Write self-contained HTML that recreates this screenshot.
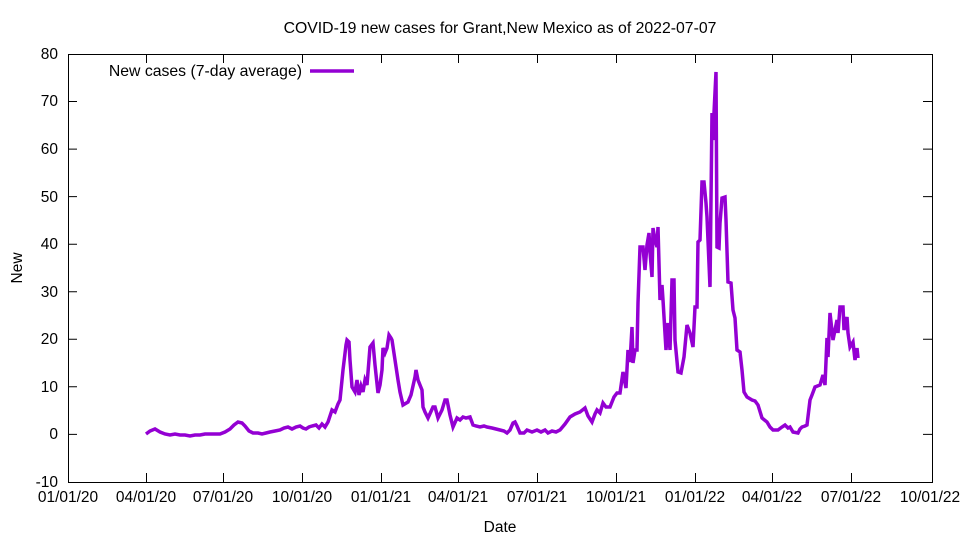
<!DOCTYPE html>
<html><head><style>body{margin:0;background:#fff}svg{display:block;font-family:"Liberation Sans",sans-serif}</style></head><body>
<svg width="960" height="540" viewBox="0 0 960 540">
<rect width="960" height="540" fill="#fff"/>
<g stroke="#000" stroke-width="1" fill="none">
<rect x="68.5" y="54.5" width="864" height="428"/>
<path d="M68 434.4h9M932 434.4h-9M68 386.8h9M932 386.8h-9M68 339.3h9M932 339.3h-9M68 291.7h9M932 291.7h-9M68 244.2h9M932 244.2h-9M68 196.6h9M932 196.6h-9M68 149.1h9M932 149.1h-9M68 101.5h9M932 101.5h-9"/>
<path d="M146.5 482v-9M146.5 54v9M223.5 482v-9M223.5 54v9M302.5 482v-9M302.5 54v9M381.5 482v-9M381.5 54v9M458.5 482v-9M458.5 54v9M537.5 482v-9M537.5 54v9M616.5 482v-9M616.5 54v9M695.5 482v-9M695.5 54v9M772.5 482v-9M772.5 54v9M851.5 482v-9M851.5 54v9"/>
</g>
<g font-size="15.5" text-anchor="end" fill="#000">
<text x="58" y="487">-10</text><text x="58" y="439">0</text><text x="58" y="392">10</text><text x="58" y="344">20</text><text x="58" y="297">30</text><text x="58" y="249">40</text><text x="58" y="202">50</text><text x="58" y="154">60</text><text x="58" y="106">70</text><text x="58" y="59">80</text>
</g>
<g font-size="15.5" text-anchor="middle" fill="#000">
<text x="68" y="502">01/01/20</text><text x="146" y="502">04/01/20</text><text x="223" y="502">07/01/20</text><text x="302" y="502">10/01/20</text><text x="381" y="502">01/01/21</text><text x="458" y="502">04/01/21</text><text x="537" y="502">07/01/21</text><text x="616" y="502">10/01/21</text><text x="695" y="502">01/01/22</text><text x="772" y="502">04/01/22</text><text x="851" y="502">07/01/22</text><text x="930" y="502">10/01/22</text>
<text x="500" y="532">Date</text>
<text x="500" y="33" font-size="15.8">COVID-19 new cases for Grant,New Mexico as of 2022-07-07</text>
<text transform="translate(22,268) rotate(-90)">New</text>
</g>
<text x="302" y="76" font-size="15.8" text-anchor="end">New cases (7-day average)</text>
<line x1="310" y1="71" x2="354" y2="71" stroke="#9400d3" stroke-width="3.5"/>
<polyline fill="none" stroke="#9400d3" stroke-width="3.5" stroke-linejoin="miter" points="146,434 150,431 155,429 160,432 165,434 170,435 175,434 180,435 185,435 190,436 195,435 200,435 205,434 210,434 215,434 220,434 225,432 230,429 234,425 238,422 242,423 245,426 249,431 253,433 258,433 262,434 266,433 270,432 275,431 280,430 284,428 288,427 292,429 296,427 300,426 303,428 306,429 309,427 312,426 316,425 319,428 322,424 325,427 328,422 332,410 335,412 338,404 340,400 343,370 346,345 347,340 349,342 350,360 352,387 355,392 357,380 359,395 361,386 363,392 365,380 367,385 370,347 373,343 375,365 378,393 380,385 382,370 383,348 385,353 387,348 389,335 391,338 392,340 395,360 398,380 400,392 403,405 408,402 411,395 415,377 416,370 418,380 420,385 422,390 423,407 425,412 428,418 433,407 435,407 438,418 442,410 445,400 447,400 450,415 453,427 457,418 460,420 463,417 466,418 470,417 473,425 476,426 480,427 484,426 487,427 492,428 496,429 500,430 504,431 507,433 510,430 513,423 515,422 517,426 520,433 524,433 527,430 532,432 537,430 541,432 545,430 548,433 552,431 556,432 560,430 565,424 570,417 575,414 580,412 585,408 588,416 592,422 595,414 597,410 600,413 603,403 606,407 610,407 614,397 617,393 620,393 623,372 626,388 628,350 630,362 632,327 633,363 635,350 637,350 638,303 640,247 643,247 645,270 647,245 649,233 650,252 652,277 653,228 655,240 657,247 658,227 660,300 662,285 663,300 666,350 668,323 670,350 672,280 674,280 675,340 678,372 681,373 684,357 687,325 690,333 693,347 695,307 697,307 698,242 700,240 702,182 704,182 706,203 707,217 710,287 712,113 713,140 714,113 716,72 717,247 719,248 720,223 722,198 725,197 726,220 728,282 731,283 733,310 735,318 737,350 740,352 742,370 744,392 747,397 752,400 755,401 758,405 762,418 767,422 770,427 773,430 778,430 782,427 785,425 788,428 790,427 793,432 798,433 800,429 802,427 805,426 807,425 810,400 812,395 815,387 820,385 823,375 825,385 827,338 828,357 830,313 833,340 835,330 837,320 838,333 840,307 843,307 844,330 847,317 848,333 850,347 853,342 855,360 857,348 858,358"/>
</svg>
</body></html>
